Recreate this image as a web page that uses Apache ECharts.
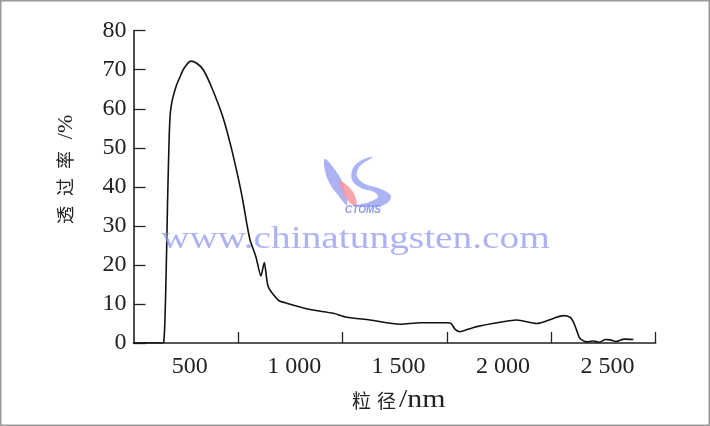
<!DOCTYPE html>
<html>
<head>
<meta charset="utf-8">
<script src="https://cdn.jsdelivr.net/npm/echarts@6/dist/echarts.min.js"></script>
<style>
html,body{margin:0;padding:0;background:#fff;}
#chart{width:710px;height:426px;}
</style>
</head>
<body>
<div id="chart"></div>
<script>
// particle size (nm) and transmittance (%)
const particleSize = [250, 392, 396, 400, 405, 409, 413, 417, 421, 425,
  430, 438, 457, 473, 490, 524, 554, 584, 624, 677,
  720, 757, 773, 792, 808, 836, 860, 876, 895, 943,
  983, 1095, 1207, 1271, 1382, 1526, 1622, 1749, 1770, 1790,
  1813, 1851, 1893, 2005, 2084, 2180, 2260, 2308, 2340, 2355,
  2370, 2387, 2420, 2450, 2480, 2510, 2531, 2560, 2600, 2643];
const transmittance = [0, 0, 1, 5, 15, 25, 36, 45, 53, 58,
  60.5, 62.8, 66.2, 68.2, 70.2, 72.2, 71.6, 70.0, 65.5, 58,
  49.6, 40.9, 36.6, 30.7, 26.4, 22.1, 17.2, 20.6, 14.4, 11.0,
  10.2, 8.6, 7.6, 6.6, 5.9, 4.8, 5.2, 5.2, 5.0, 3.5,
  2.9, 3.5, 4.2, 5.3, 5.9, 5.0, 6.3, 7.0, 6.6, 5.5,
  3.5, 1.2, 0.3, 0.5, 0.2, 0.9, 0.8, 0.4, 1.0, 0.9];
const xTickValues = [750, 1250, 1750, 2250, 2750];
const xLabelValues = [500, 1000, 1500, 2000, 2500];
const xName = ['粒', '径', '/nm'];
const yName = ['透', '过', '率', '/%'];
const watermark = 'www.chinatungsten.com';

const chart = echarts.init(document.getElementById('chart'), null, {renderer: 'canvas'});
const serif = "'Liberation Serif','Times New Roman',serif";
const cjk = "'Noto Sans CJK SC',sans-serif";
const axisColor = '#222';
const logoBlue = 'rgba(150,160,242,0.8)';

const option = {
  backgroundColor: '#fff',
  animation: false,
  grid: {left: 133.5, right: 54.3, top: 30.7, bottom: 83},
  xAxis: {
    type: 'value', min: 250, max: 2750,
    axisLine: {lineStyle: {color: axisColor, width: 1.6}},
    axisTick: {show: true, inside: true, length: 11, customValues: xTickValues,
      lineStyle: {color: axisColor, width: 1.3}},
    axisLabel: {customValues: xLabelValues, margin: 12, color: '#222',
      fontFamily: serif, fontSize: 24, padding: [0, 0, 0, 8],
      formatter: v => v >= 1000 ? Math.floor(v / 1000) + ' ' + String(v % 1000).padStart(3, '0') : String(v)},
    splitLine: {show: false}
  },
  yAxis: {
    type: 'value', min: 0, max: 80, interval: 10,
    axisLine: {show: true, lineStyle: {color: axisColor, width: 1.6}},
    axisTick: {show: true, inside: true, length: 12, lineStyle: {color: axisColor, width: 1.3}},
    axisLabel: {margin: 7, color: '#222', fontFamily: serif, fontSize: 24},
    splitLine: {show: false}
  },
  series: [{
    type: 'line',
    data: particleSize.map((x, i) => [x, transmittance[i]]),
    showSymbol: false, symbol: 'none',
    smooth: 0.25,
    lineStyle: {color: '#111', width: 1.6}
  }],
  graphic: [
    {type: 'rect', shape: {x: 0.75, y: 0.75, width: 708.5, height: 424.5},
      style: {fill: null, stroke: '#9a9a9a', lineWidth: 1.5}, silent: true},
    // watermark
    {type: 'text', x: 161, y: 240, scaleX: 1.27, z: 10,
      style: {text: watermark, font: '31px ' + serif, fill: 'rgba(145,152,242,0.75)',
        align: 'left', verticalAlign: 'middle'}},
    {type: 'polygon', z: 10, shape: {smooth: 0.4, points: [[325,159],[336,171],[343,184],[347,205],[338,195],[330,184],[325,171]]},
      style: {fill: logoBlue}},
    {type: 'polygon', z: 10, shape: {smooth: 0.4, points: [[339,181],[348,186],[355,196],[356,206],[349,202],[343,193]]},
      style: {fill: 'rgba(244,150,160,0.85)'}},
    {type: 'polygon', z: 10, shape: {smooth: 0.35, points: [[373,157],[360,166],[357,176],[365,184],[381,189],[391,196],[386,204],[372,207],[355,206],[369,202],[378,197],[374,192],[361,188],[352,180],[353,168],[362,160]]},
      style: {fill: logoBlue}},
    {type: 'text', x: 363, y: 210, z: 10,
      style: {text: 'CTOMS', font: 'italic bold 10px Arial, sans-serif', fill: 'rgba(125,135,240,0.85)',
        align: 'center', verticalAlign: 'middle'}},
    // x-axis name
    {type: 'text', x: 352, y: 401, style: {text: xName[0], font: '19px ' + cjk, fill: '#222', verticalAlign: 'middle'}},
    {type: 'text', x: 377, y: 401, style: {text: xName[1], font: '19px ' + cjk, fill: '#222', verticalAlign: 'middle'}},
    {type: 'text', x: 399, y: 400, scaleX: 1.15, style: {text: xName[2], font: '26px ' + serif, fill: '#222', verticalAlign: 'middle'}},
    // y-axis name (rotated)
    {type: 'text', x: 65, y: 215, rotation: Math.PI / 2, style: {text: yName[0], font: '18px ' + cjk, fill: '#222', align: 'center', verticalAlign: 'middle'}},
    {type: 'text', x: 65, y: 187, rotation: Math.PI / 2, style: {text: yName[1], font: '18px ' + cjk, fill: '#222', align: 'center', verticalAlign: 'middle'}},
    {type: 'text', x: 65, y: 160, rotation: Math.PI / 2, style: {text: yName[2], font: '18px ' + cjk, fill: '#222', align: 'center', verticalAlign: 'middle'}},
    {type: 'text', x: 66, y: 127, rotation: Math.PI / 2, style: {text: yName[3], font: '22px ' + serif, fill: '#222', align: 'center', verticalAlign: 'middle'}}
  ]
};
chart.setOption(option);
</script>
</body>
</html>
